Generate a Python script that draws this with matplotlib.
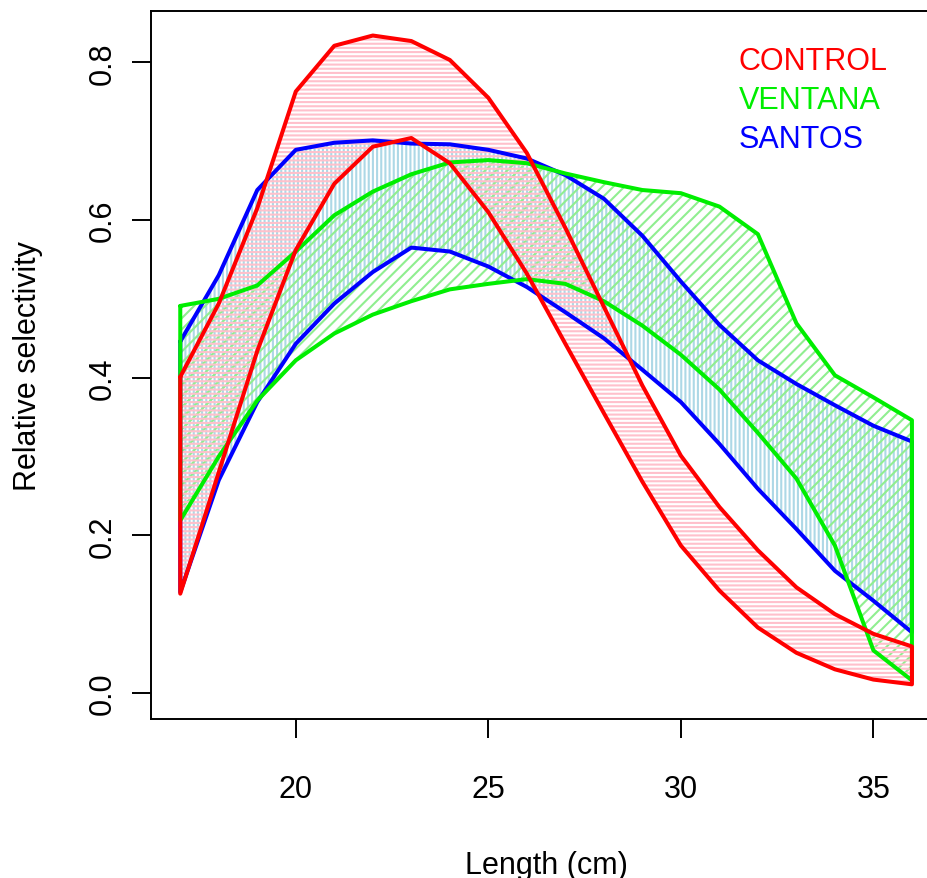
import numpy as np
import matplotlib
matplotlib.use("Agg")
import matplotlib.pyplot as plt

plt.rcParams['font.family'] = ['Liberation Sans', 'DejaVu Sans']
plt.rcParams['font.size'] = 22
plt.rcParams['hatch.linewidth'] = 1.5

# length classes (cm)
length = np.arange(17, 37)

# CONTROL band (upper / lower curve)
control_hi = [0.401, 0.494, 0.615, 0.763, 0.821, 0.834, 0.827, 0.803, 0.755, 0.685,
              0.590, 0.490, 0.390, 0.301, 0.236, 0.181, 0.134, 0.100, 0.075, 0.059]
control_lo = [0.126, 0.280, 0.434, 0.562, 0.646, 0.693, 0.704, 0.672, 0.610, 0.532,
              0.443, 0.355, 0.268, 0.187, 0.130, 0.083, 0.051, 0.030, 0.017, 0.011]

# VENTANA band
ventana_hi = [0.491, 0.500, 0.517, 0.560, 0.606, 0.636, 0.658, 0.673, 0.676, 0.672,
              0.659, 0.648, 0.638, 0.634, 0.617, 0.582, 0.469, 0.403, 0.375, 0.346]
ventana_lo = [0.219, 0.300, 0.371, 0.422, 0.456, 0.480, 0.497, 0.512, 0.519, 0.525,
              0.519, 0.497, 0.466, 0.429, 0.385, 0.330, 0.272, 0.187, 0.054, 0.016]

# SANTOS band
santos_hi = [0.446, 0.530, 0.638, 0.689, 0.698, 0.701, 0.697, 0.696, 0.689, 0.678,
             0.657, 0.627, 0.580, 0.522, 0.467, 0.422, 0.392, 0.365, 0.339, 0.319]
santos_lo = [0.128, 0.270, 0.369, 0.443, 0.494, 0.534, 0.565, 0.560, 0.541, 0.515,
             0.483, 0.450, 0.410, 0.369, 0.316, 0.259, 0.208, 0.155, 0.117, 0.077]

xticks = [20, 25, 30, 35]
yticks = [0.0, 0.2, 0.4, 0.6, 0.8]

fig = plt.figure(figsize=(9.28, 8.79), dpi=100)
ax = fig.add_axes([151/928, 1 - 720/879, 790.2/928, 708.3/879])

def band(x, hi, lo, line_col, hatch_col, hatch, z):
    hi = np.asarray(hi); lo = np.asarray(lo)
    # hatching below all the outlines
    ax.fill_between(x, lo, hi, facecolor='none', edgecolor=hatch_col,
                    linewidth=0, hatch=hatch, zorder=z)
    bx = np.r_[x, x[::-1], x[0]]
    by = np.r_[hi, lo[::-1], hi[0]]
    ax.plot(bx, by, color=line_col, lw=2.9, solid_joinstyle='round',
            solid_capstyle='round', zorder=z + 10)

band(length, santos_hi, santos_lo, 'blue', 'lightblue', '||||', 2)
band(length, ventana_hi, ventana_lo, '#00ee00', 'lightgreen', '///', 3)
band(length, control_hi, control_lo, 'red', 'pink', '----', 4)

ax.set_xlim(16.24, 36.76)
ax.set_ylim(-0.033, 0.8655)
ax.set_xticks(xticks)
ax.set_xticklabels([str(t) for t in xticks])
ax.set_yticks(yticks)
ax.set_yticklabels(['%.1f' % t for t in yticks], rotation=90, va='center')

ax.tick_params(axis='both', length=13.7, width=1.4, direction='out')
ax.tick_params(axis='x', pad=25.6)
ax.tick_params(axis='y', pad=9.9)
for s in ax.spines.values():
    s.set_linewidth(1.4)

ax.set_xlabel('Length (cm)')
ax.set_ylabel('Relative selectivity')
ax.xaxis.set_label_coords(0.5, -0.1845)
ax.yaxis.set_label_coords(-0.1364, 0.5)

# legend as coloured text (no symbols, no box)
names = ['CONTROL', 'VENTANA', 'SANTOS']
name_cols = ['red', '#00ee00', 'blue']
for i, (n, c) in enumerate(zip(names, name_cols)):
    ax.text(0.7441, 0.918 - i * 0.0549, n, color=c, transform=ax.transAxes,
            ha='left', va='baseline')

fig.savefig('out.png', dpi=100)
